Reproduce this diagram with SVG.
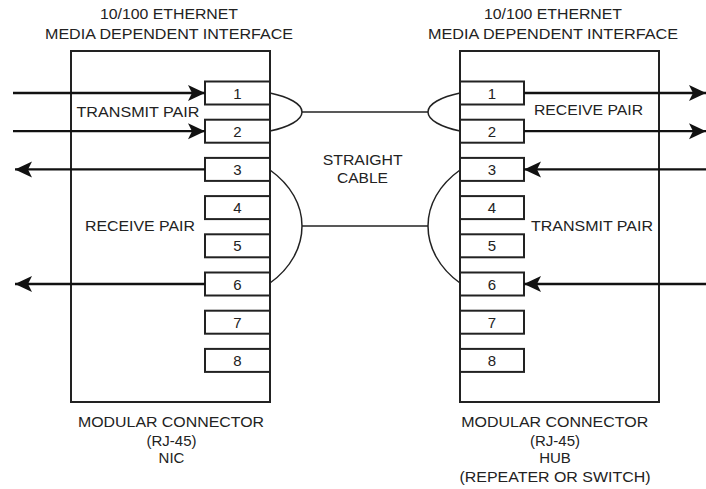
<svg xmlns="http://www.w3.org/2000/svg" width="706" height="489" viewBox="0 0 706 489">
<style>
text{font-family:"Liberation Sans",Arial,sans-serif;font-size:15px;fill:#222;text-anchor:middle}
.box{fill:#fff;stroke:#222;stroke-width:2}
.pin{fill:#fff;stroke:#222;stroke-width:2}
.sig{fill:none;stroke:#111;stroke-width:2.3}
.wire{fill:none;stroke:#222;stroke-width:1.5}
</style>
<defs>
<marker id="ah" markerWidth="18" markerHeight="18" refX="17" refY="9" orient="auto" markerUnits="userSpaceOnUse">
<path d="M17,9 L0,1 L4,9 L0,17 Z" fill="#111"/>
</marker>
</defs>
<g id="title-left">
<text x="169" y="19" textLength="138" lengthAdjust="spacingAndGlyphs">10/100 ETHERNET</text>
<text x="169" y="38.5" textLength="248" lengthAdjust="spacingAndGlyphs">MEDIA DEPENDENT INTERFACE</text>
</g>
<g id="title-right">
<text x="553" y="19" textLength="138" lengthAdjust="spacingAndGlyphs">10/100 ETHERNET</text>
<text x="553" y="38.5" textLength="250" lengthAdjust="spacingAndGlyphs">MEDIA DEPENDENT INTERFACE</text>
</g>
<g id="nic">
<rect class="box" x="71" y="51" width="199" height="351"/>
<text x="138" y="116.7" textLength="123" lengthAdjust="spacingAndGlyphs">TRANSMIT PAIR</text>
<text x="140" y="231" textLength="110" lengthAdjust="spacingAndGlyphs">RECEIVE PAIR</text>
<g id="nic-pins">
<rect class="pin" x="205" y="81.5" width="65" height="23"/><text x="237.5" y="98.5">1</text>
<rect class="pin" x="205" y="119.7" width="65" height="23"/><text x="237.5" y="136.7">2</text>
<rect class="pin" x="205" y="157.9" width="65" height="23"/><text x="237.5" y="174.9">3</text>
<rect class="pin" x="205" y="196.1" width="65" height="23"/><text x="237.5" y="213.1">4</text>
<rect class="pin" x="205" y="234.3" width="65" height="23"/><text x="237.5" y="251.3">5</text>
<rect class="pin" x="205" y="272.5" width="65" height="23"/><text x="237.5" y="289.5">6</text>
<rect class="pin" x="205" y="310.7" width="65" height="23"/><text x="237.5" y="327.7">7</text>
<rect class="pin" x="205" y="348.9" width="65" height="23"/><text x="237.5" y="365.9">8</text>
</g>
<text x="171" y="427.3" textLength="186" lengthAdjust="spacingAndGlyphs">MODULAR CONNECTOR</text>
<text x="171.5" y="445.7">(RJ-45)</text>
<text x="171.5" y="463.3">NIC</text>
</g>
<g id="hub">
<rect class="box" x="460" y="51" width="199" height="351"/>
<text x="588.5" y="115" textLength="109" lengthAdjust="spacingAndGlyphs">RECEIVE PAIR</text>
<text x="592" y="231" textLength="122" lengthAdjust="spacingAndGlyphs">TRANSMIT PAIR</text>
<g id="hub-pins">
<rect class="pin" x="460" y="81.5" width="64" height="23"/><text x="492" y="98.5">1</text>
<rect class="pin" x="460" y="119.7" width="64" height="23"/><text x="492" y="136.7">2</text>
<rect class="pin" x="460" y="157.9" width="64" height="23"/><text x="492" y="174.9">3</text>
<rect class="pin" x="460" y="196.1" width="64" height="23"/><text x="492" y="213.1">4</text>
<rect class="pin" x="460" y="234.3" width="64" height="23"/><text x="492" y="251.3">5</text>
<rect class="pin" x="460" y="272.5" width="64" height="23"/><text x="492" y="289.5">6</text>
<rect class="pin" x="460" y="310.7" width="64" height="23"/><text x="492" y="327.7">7</text>
<rect class="pin" x="460" y="348.9" width="64" height="23"/><text x="492" y="365.9">8</text>
</g>
<text x="554.7" y="427.3" textLength="187" lengthAdjust="spacingAndGlyphs">MODULAR CONNECTOR</text>
<text x="555" y="445.7">(RJ-45)</text>
<text x="555" y="463.3">HUB</text>
<text x="555" y="481.7" textLength="191" lengthAdjust="spacingAndGlyphs">(REPEATER OR SWITCH)</text>
</g>
<g id="cable">
<text x="362.7" y="165" textLength="80" lengthAdjust="spacingAndGlyphs">STRAIGHT</text>
<text x="362.5" y="183.3" textLength="51" lengthAdjust="spacingAndGlyphs">CABLE</text>
</g>
<g id="connectors">
<line class="sig" x1="13" y1="93" x2="205" y2="93" marker-end="url(#ah)"/>
<line class="sig" x1="13" y1="131.2" x2="205" y2="131.2" marker-end="url(#ah)"/>
<line class="sig" x1="205" y1="169.4" x2="15" y2="169.4" marker-end="url(#ah)"/>
<line class="sig" x1="205" y1="284" x2="15" y2="284" marker-end="url(#ah)"/>
<line class="sig" x1="524" y1="93" x2="706" y2="93" marker-end="url(#ah)"/>
<line class="sig" x1="524" y1="131.2" x2="706" y2="131.2" marker-end="url(#ah)"/>
<line class="sig" x1="706" y1="169.4" x2="524" y2="169.4" marker-end="url(#ah)"/>
<line class="sig" x1="706" y1="284" x2="524" y2="284" marker-end="url(#ah)"/>
<path class="wire" d="M270,93 C289,97 302,104 302,112 C302,120 289,127 270,131"/>
<path class="wire" d="M460,93 C441,97 428,104 428,112 C428,120 441,127 460,131"/>
<line class="wire" x1="302" y1="112" x2="428" y2="112"/>
<path class="wire" d="M270,170 C291,185 302,205 302,226 C302,247 291,268 270,283"/>
<path class="wire" d="M460,170 C439,185 428,205 428,226 C428,247 439,268 460,283"/>
<line class="wire" x1="302" y1="226" x2="428" y2="226"/>
</g>
</svg>
